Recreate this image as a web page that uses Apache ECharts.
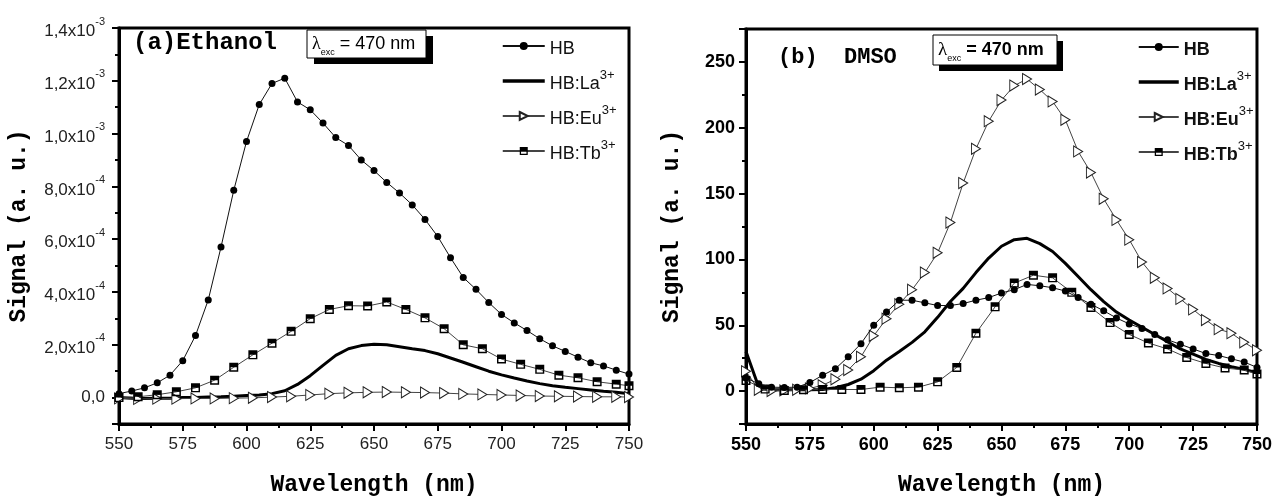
<!DOCTYPE html>
<html>
<head>
<meta charset="utf-8">
<script src="https://cdn.jsdelivr.net/npm/echarts@6.0.0/dist/echarts.min.js"></script>
<style>
  html, body { margin: 0; background: #fff; }
  #chart { width: 1275px; height: 502px; }
</style>
</head>
<body>
<div id="chart"></div>
<script>
// wavelength grids (nm)
const wl5 = [550, 555, 560, 565, 570, 575, 580, 585, 590, 595, 600, 605, 610, 615, 620, 625, 630, 635, 640, 645,
  650, 655, 660, 665, 670, 675, 680, 685, 690, 695, 700, 705, 710, 715, 720, 725, 730, 735, 740, 745, 750];
const wl75 = [550, 557.5, 565, 572.5, 580, 587.5, 595, 602.5, 610, 617.5, 625, 632.5, 640, 647.5, 655, 662.5,
  670, 677.5, 685, 692.5, 700, 707.5, 715, 722.5, 730, 737.5, 745, 750];

// (a) Ethanol
const ethHB = [0.15e-4, 0.25e-4, 0.37e-4, 0.56e-4, 0.85e-4, 1.4e-4, 2.35e-4, 3.7e-4, 5.7e-4, 7.85e-4, 9.7e-4,
  11.1e-4, 11.9e-4, 12.1e-4, 11.2e-4, 10.9e-4, 10.4e-4, 9.85e-4, 9.55e-4, 9.0e-4, 8.6e-4, 8.15e-4, 7.75e-4,
  7.3e-4, 6.75e-4, 6.1e-4, 5.3e-4, 4.55e-4, 4.1e-4, 3.6e-4, 3.15e-4, 2.83e-4, 2.54e-4, 2.23e-4, 1.96e-4,
  1.75e-4, 1.53e-4, 1.32e-4, 1.2e-4, 1.04e-4, 0.89e-4];
const ethLa = [0, -0.02e-4, -0.03e-4, -0.02e-4, -0.02e-4, 0, 0, 0.02e-4, 0.03e-4, 0.05e-4, 0.08e-4, 0.1e-4,
  0.15e-4, 0.26e-4, 0.5e-4, 0.83e-4, 1.22e-4, 1.6e-4, 1.85e-4, 1.97e-4, 2.02e-4, 2.0e-4, 1.93e-4, 1.85e-4,
  1.78e-4, 1.66e-4, 1.5e-4, 1.34e-4, 1.17e-4, 1.0e-4, 0.86e-4, 0.74e-4, 0.63e-4, 0.53e-4, 0.45e-4, 0.39e-4,
  0.34e-4, 0.29e-4, 0.24e-4, 0.2e-4, 0.15e-4];
const ethEu = [-0.03e-4, -0.05e-4, -0.04e-4, -0.04e-4, -0.03e-4, -0.03e-4, -0.02e-4, -0.01e-4, 0.02e-4, 0.05e-4,
  0.1e-4, 0.15e-4, 0.18e-4, 0.2e-4, 0.21e-4, 0.2e-4, 0.19e-4, 0.17e-4, 0.14e-4, 0.12e-4, 0.1e-4, 0.08e-4,
  0.06e-4, 0.05e-4, 0.04e-4, 0.03e-4, 0.03e-4, 0.02e-4];
const ethTb = [0, 0.03e-4, 0.11e-4, 0.22e-4, 0.37e-4, 0.66e-4, 1.15e-4, 1.62e-4, 2.06e-4, 2.51e-4, 2.99e-4,
  3.34e-4, 3.48e-4, 3.47e-4, 3.62e-4, 3.34e-4, 3.02e-4, 2.61e-4, 2.0e-4, 1.85e-4, 1.46e-4, 1.26e-4, 1.07e-4,
  0.85e-4, 0.75e-4, 0.6e-4, 0.51e-4, 0.45e-4];

// (b) DMSO
const dmsoHB = [10, 5.5, 3, 2.7, 3, 6.5, 12, 17, 26, 36, 50, 60, 69, 69, 67, 65, 65, 66.5, 69, 71, 74.5, 77, 81,
  80, 78.5, 76, 71, 66, 61, 55.5, 51, 47.5, 43, 39, 35.5, 32, 28.5, 27, 24.5, 22, 18];
const dmsoLa = [30, 3, 1, 1, 1, 1, 1.2, 2.5, 5, 9, 15.5, 23.5, 30, 37, 45, 56, 68, 78, 90, 101, 110, 115, 116,
  112, 106, 97, 87, 77, 68, 60, 54, 48.5, 43, 37.5, 32, 28, 24, 21, 18.5, 16.5, 14];
const dmsoEu = [15, 1, 0, 0.5, 1, 2, 4.5, 9, 16, 26, 42, 55, 66, 77, 90, 105, 128, 158, 184, 205, 221, 232, 237,
  229, 220, 206, 182, 166, 146, 130, 115, 98, 86, 78, 70, 62, 54, 47, 44, 37, 31];
const dmsoTb = [8, 1.5, 0.5, 1, 1.2, 1.2, 1.2, 3, 2.5, 3, 7, 18, 44, 64, 82, 88, 86, 75, 63.5, 52, 43, 36.5, 32,
  25.5, 21, 17.5, 16, 13];

const names = ['HB', 'HB:La', 'HB:Eu', 'HB:Tb'];

const pairs = (xs, ys) => xs.map((x, i) => [x, ys[i]]);

const triRight = 'path://M0,0 L10,5 L0,10 Z';
const halfSquare = 'path://M0,0 L10,0 L10,10 L0,10 Z M1.6,5 L1.6,8.4 L8.4,8.4 L8.4,5 Z';

function makeSeries(idx, hb, la, eu, tb, euX) {
  return [
    {
      name: 'HB', type: 'line', xAxisIndex: idx, yAxisIndex: idx, data: pairs(wl5, hb),
      symbol: 'circle', symbolSize: 7, showAllSymbol: true,
      itemStyle: { color: '#000' }, lineStyle: { color: '#111', width: 1 }, z: 5
    },
    {
      name: 'HB:La', type: 'line', xAxisIndex: idx, yAxisIndex: idx, data: pairs(wl5, la),
      symbol: 'none', lineStyle: { color: '#000', width: 3 }, itemStyle: { color: '#000' }, z: 3
    },
    {
      name: 'HB:Eu', type: 'line', xAxisIndex: idx, yAxisIndex: idx, data: pairs(euX, eu),
      symbol: triRight, symbolSize: [9, 11], showAllSymbol: true,
      itemStyle: { color: '#fff', borderColor: '#222', borderWidth: 1 },
      lineStyle: { color: '#444', width: 1 }, z: 4
    },
    {
      name: 'HB:Tb', type: 'line', xAxisIndex: idx, yAxisIndex: idx, data: pairs(wl75, tb),
      symbol: halfSquare, symbolSize: 9, showAllSymbol: true,
      itemStyle: { color: '#000' }, lineStyle: { color: '#444', width: 1 }, z: 4
    }
  ];
}

const sansFont = '"Liberation Sans", Arial, sans-serif';
const monoFont = '"Liberation Mono", "Courier New", monospace';

// La has no marker: hide the symbol in its legend icon, keep the thick line
const legendData = names.map(n => n === 'HB:La'
  ? { name: n, itemStyle: { color: 'rgba(0,0,0,0)', borderWidth: 0 }, lineStyle: { color: '#000', width: 3.5 } }
  : { name: n });

const legendLabel = (name) => {
  if (name === 'HB') return '{b|HB}';
  return '{b|' + name + '}{sup|3+}';
};

function legendStyle(bold) {
  return {
    color: '#111',
    rich: {
      b: { fontFamily: sansFont, fontSize: 18, fontWeight: bold ? 'bold' : 'normal', lineHeight: 24, verticalAlign: 'bottom' },
      sup: { fontFamily: sansFont, fontSize: 13, fontWeight: 'normal', lineHeight: 13, verticalAlign: 'top' }
    }
  };
}

const sciLabel = (v) => {
  if (v < 0) return '';
  if (Math.abs(v) < 1e-12) return '0,0';
  const e = Math.floor(Math.log10(v) + 1e-9);
  const m = v / Math.pow(10, e);
  return '{n|' + m.toFixed(1).replace('.', ',') + 'x10}{sup|' + e + '}';
};

const baseAxis = {
  axisLine: { show: true, onZero: false, lineStyle: { color: '#000', width: 3 } },
  axisTick: { show: true, inside: false, length: 7, lineStyle: { color: '#000', width: 2 } },
  minorTick: { show: true, splitNumber: 2, length: 4, lineStyle: { color: '#000', width: 2 } },
  splitLine: { show: false },
  nameLocation: 'middle',
  nameTextStyle: { fontFamily: monoFont, fontWeight: 'bold', fontSize: 23, color: '#000' }
};

const option = {
  animation: false,
  backgroundColor: '#fff',
  grid: [
    { left: 119, top: 28, width: 510, height: 402, show: true, borderColor: '#000', borderWidth: 3 },
    { left: 746, top: 29, width: 515, height: 404, show: true, borderColor: '#000', borderWidth: 3 }
  ],
  xAxis: [
    Object.assign({}, baseAxis, {
      type: 'value', gridIndex: 0, min: 550, max: 750, interval: 25,
      name: 'Wavelength (nm)', nameGap: 50,
      axisLabel: { margin: 12, fontFamily: sansFont, fontSize: 17, color: '#222' }
    }),
    Object.assign({}, baseAxis, {
      type: 'value', gridIndex: 1, min: 550, max: 750, interval: 25,
      name: 'Wavelength (nm)', nameGap: 50,
      axisLabel: { margin: 12, fontFamily: sansFont, fontSize: 18, fontWeight: 'bold', color: '#000' }
    })
  ],
  yAxis: [
    Object.assign({}, baseAxis, {
      type: 'value', gridIndex: 0, min: -1e-4, max: 1.4e-3, splitNumber: 7,
      name: 'Signal (a. u.)', nameGap: 88,
      axisLabel: {
        margin: 14, color: '#222', formatter: sciLabel, showMinLabel: false,
        rich: {
          n: { fontFamily: sansFont, fontSize: 17, lineHeight: 24, verticalAlign: 'bottom' },
          sup: { fontFamily: sansFont, fontSize: 11, lineHeight: 11, verticalAlign: 'top' }
        },
        fontFamily: sansFont, fontSize: 17
      }
    }),
    Object.assign({}, baseAxis, {
      type: 'value', gridIndex: 1, min: -25, max: 275, splitNumber: 6,
      name: 'Signal (a. u.)', nameGap: 62,
      axisLabel: {
        margin: 11, fontFamily: sansFont, fontSize: 18, fontWeight: 'bold', color: '#000',
        showMinLabel: false, showMaxLabel: false
      }
    })
  ],
  legend: [
    {
      data: legendData, orient: 'vertical', left: 496, top: 35, itemWidth: 42, itemHeight: 10, itemGap: 11,
      formatter: legendLabel, textStyle: legendStyle(false), selectedMode: false
    },
    {
      data: legendData, orient: 'vertical', left: 1132, top: 36, itemWidth: 40, itemHeight: 10, itemGap: 11,
      formatter: legendLabel, textStyle: legendStyle(true), selectedMode: false
    }
  ],
  graphic: [
    { type: 'text', left: 133, top: 31, style: { text: '(a)Ethanol', fontFamily: monoFont, fontWeight: 'bold', fontSize: 24, fill: '#000' } },
    { type: 'text', left: 778, top: 46, style: { text: '(b)  DMSO', fontFamily: monoFont, fontWeight: 'bold', fontSize: 22, fill: '#000' } },
    // lambda boxes with shadow
    { type: 'rect', shape: { x: 314, y: 36, width: 119, height: 28 }, style: { fill: '#000' }, z: 10 },
    { type: 'rect', shape: { x: 307, y: 30, width: 119, height: 28 }, style: { fill: '#fff', stroke: '#000', lineWidth: 1 }, z: 11 },
    {
      type: 'text', x: 312, y: 31, z: 12,
      style: {
        text: '{l|λ}{s|exc}{t| = 470 nm}', fill: '#000',
        rich: {
          l: { fontFamily: '"Liberation Serif", serif', fontSize: 18, lineHeight: 26, verticalAlign: 'middle' },
          s: { fontFamily: sansFont, fontSize: 9, lineHeight: 9, verticalAlign: 'bottom' },
          t: { fontFamily: sansFont, fontSize: 18, lineHeight: 26, verticalAlign: 'middle' }
        }
      }
    },
    { type: 'rect', shape: { x: 939, y: 41, width: 124, height: 30 }, style: { fill: '#000' }, z: 10 },
    { type: 'rect', shape: { x: 933, y: 35, width: 124, height: 30 }, style: { fill: '#fff', stroke: '#000', lineWidth: 1 }, z: 11 },
    {
      type: 'text', x: 938, y: 37, z: 12,
      style: {
        text: '{l|λ}{s|exc}{t| = 470 nm}', fill: '#000',
        rich: {
          l: { fontFamily: '"Liberation Serif", serif', fontSize: 19, lineHeight: 26, verticalAlign: 'middle' },
          s: { fontFamily: sansFont, fontSize: 9, lineHeight: 9, verticalAlign: 'bottom' },
          t: { fontFamily: sansFont, fontSize: 18, fontWeight: 'bold', lineHeight: 26, verticalAlign: 'middle' }
        }
      }
    }
  ],
  series: [].concat(
    makeSeries(0, ethHB, ethLa, ethEu, ethTb, wl75),
    makeSeries(1, dmsoHB, dmsoLa, dmsoEu, dmsoTb, wl5)
  )
};

const chart = echarts.init(document.getElementById('chart'));
chart.setOption(option);
</script>
</body>
</html>
